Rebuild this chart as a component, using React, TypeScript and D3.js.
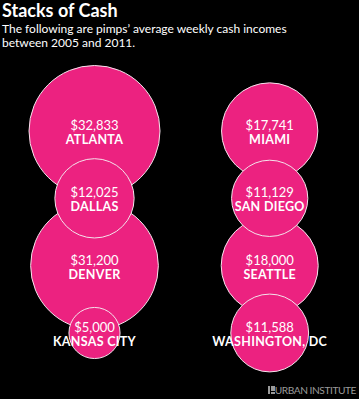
import React from "react";
import * as d3 from "d3";

const cities = ["ATLANTA", "DALLAS", "DENVER", "KANSAS CITY", "MIAMI", "SAN DIEGO", "SEATTLE", "WASHINGTON, DC"];
const incomes = [32833, 12025, 31200, 5000, 17741, 11129, 18000, 11588];
const columns = [0, 0, 0, 0, 1, 1, 1, 1];
const rows = [0, 1, 2, 3, 0, 1, 2, 3];
const title = "Stacks of Cash";
const subtitle = ["The following are pimps’ average weekly cash incomes", "between 2005 and 2011."];
const credit = "URBAN INSTITUTE";

const W = 359;
const H = 399;
const FONT = "Lato, 'Open Sans', sans-serif";

export default function App() {
  const r = d3.scaleSqrt().domain([0, d3.max(incomes) as number]).range([0, 65.5]);
  const x = d3.scalePoint<number>().domain([0, 1]).range([94.5, 269.7]);
  const y = d3.scaleLinear().domain([0, 3]).range([131, 333]);
  const fmt = d3.format("$,");

  const data = cities.map((c, i) => ({ c, v: incomes[i], col: columns[i], row: rows[i] }));
  const order = [...data].sort((a, b) => b.v - a.v);

  return (
    <svg
      width={W}
      height={H}
      style={{ position: "fixed", left: 0, top: 0, background: "#000", display: "block" }}
      fontFamily={FONT}
    >
      <rect width={W} height={H} fill="#000" />
      <text x={2} y={17} fill="#fff" fontSize={18} fontWeight={700}>{title}</text>
      {subtitle.map((s, i) => (
        <text key={i} x={2} y={33 + i * 14} fill="#fff" fontSize={12}>{s}</text>
      ))}
      {order.map((d) => (
        <circle
          key={d.c}
          cx={x(d.col)}
          cy={y(d.row)}
          r={r(d.v)}
          fill="#ec2280"
          stroke="#f4e4ec"
          strokeWidth={1}
        />
      ))}
      {data.map((d) => (
        <g key={d.c} transform={`translate(${x(d.col)},${y(d.row)})`} fill="#fff" textAnchor="middle">
          <text y={-1} fontSize={13}>{fmt(d.v)}</text>
          <text y={13} fontSize={12.5} fontWeight={700} letterSpacing={0.3}>{d.c}</text>
        </g>
      ))}
      <g fill="#9a9a9a">
        <rect x={268} y={386} width={2} height={8} />
        <rect x={271} y={386} width={4} height={5} />
        <rect x={271} y={392} width={4} height={2} />
        <text x={356} y={394} fontSize={10.2} textAnchor="end" letterSpacing={-0.45}>{credit}</text>
      </g>
    </svg>
  );
}
